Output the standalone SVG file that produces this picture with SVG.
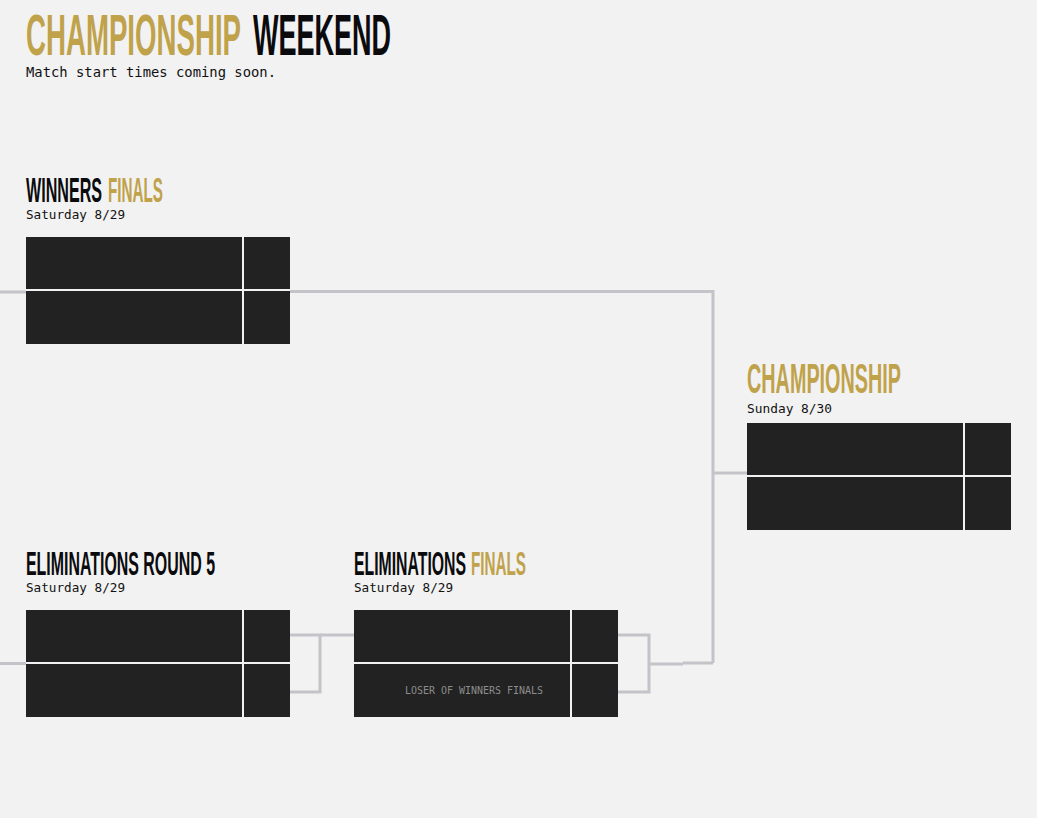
<svg xmlns="http://www.w3.org/2000/svg" width="1037" height="818" viewBox="0 0 1037 818">
<style>
.hd{font-family:"Liberation Sans Narrow","Liberation Sans","DejaVu Sans",sans-serif;font-weight:bold;}
.gold{fill:#c0a24b;}
.blk{fill:#0b0b0d;}
.mono{font-family:"DejaVu Sans Mono","Liberation Mono",monospace;fill:#111111;}
.box{fill:#222222;}
.sep{stroke:#f2f2f2;stroke-width:2;}
.con{fill:none;stroke:#c3c3c9;stroke-width:3;}
.ph{font-family:"DejaVu Sans Mono","Liberation Mono",monospace;fill:#8c8c8c;font-size:10px;}
</style>
<rect x="0" y="0" width="1037" height="818" fill="#f2f2f2"/>

<g id="title">
<text class="hd gold" x="26" y="55" font-size="58" textLength="215" lengthAdjust="spacingAndGlyphs">CHAMPIONSHIP</text>
<text class="hd blk" x="253" y="55" font-size="58" textLength="138" lengthAdjust="spacingAndGlyphs">WEEKEND</text>
<text class="mono" x="26" y="77" font-size="14" textLength="250" lengthAdjust="spacingAndGlyphs">Match start times coming soon.</text>
</g>

<g id="connectors">
<path class="con" d="M0 292H26"/>
<path class="con" d="M290 291.5H713V663"/>
<path class="con" d="M713 473H747"/>
<path class="con" d="M0 663.5H26"/>
<path class="con" d="M290 635H320V692H290"/>
<path class="con" d="M320 635H354"/>
<path class="con" d="M618 635H649V692H618"/>
<path class="con" d="M649 664H683"/>
<path class="con" d="M683 663H713"/>
</g>

<g id="winners-finals">
<text class="hd blk" x="26" y="202" font-size="34.5" textLength="76" lengthAdjust="spacingAndGlyphs">WINNERS</text>
<text class="hd gold" x="108" y="202" font-size="34.5" textLength="55" lengthAdjust="spacingAndGlyphs">FINALS</text>
<text class="mono" x="26" y="219" font-size="13" textLength="99" lengthAdjust="spacingAndGlyphs">Saturday 8/29</text>
<rect class="box" x="26" y="237" width="264" height="107"/>
<path class="sep" d="M26 290H290M243 237V344"/>
</g>

<g id="championship">
<text class="hd gold" x="747" y="393" font-size="43" textLength="154" lengthAdjust="spacingAndGlyphs">CHAMPIONSHIP</text>
<text class="mono" x="747" y="413" font-size="13" textLength="85" lengthAdjust="spacingAndGlyphs">Sunday 8/30</text>
<rect class="box" x="747" y="423" width="264" height="107"/>
<path class="sep" d="M747 476H1011M964 423V530"/>
</g>

<g id="eliminations-round-5">
<text class="hd blk" x="26" y="575" font-size="33.5" textLength="189" lengthAdjust="spacingAndGlyphs">ELIMINATIONS ROUND 5</text>
<text class="mono" x="26" y="592" font-size="13" textLength="99" lengthAdjust="spacingAndGlyphs">Saturday 8/29</text>
<rect class="box" x="26" y="610" width="264" height="107"/>
<path class="sep" d="M26 663H290M243 610V717"/>
</g>

<g id="eliminations-finals">
<text class="hd blk" x="354" y="575" font-size="33.5" textLength="112" lengthAdjust="spacingAndGlyphs">ELIMINATIONS</text>
<text class="hd gold" x="471" y="575" font-size="33.5" textLength="55" lengthAdjust="spacingAndGlyphs">FINALS</text>
<text class="mono" x="354" y="592" font-size="13" textLength="99" lengthAdjust="spacingAndGlyphs">Saturday 8/29</text>
<rect class="box" x="354" y="610" width="264" height="107"/>
<path class="sep" d="M354 663H618M571 610V717"/>
<text class="ph" x="405" y="694" textLength="138" lengthAdjust="spacingAndGlyphs">LOSER OF WINNERS FINALS</text>
</g>
</svg>
